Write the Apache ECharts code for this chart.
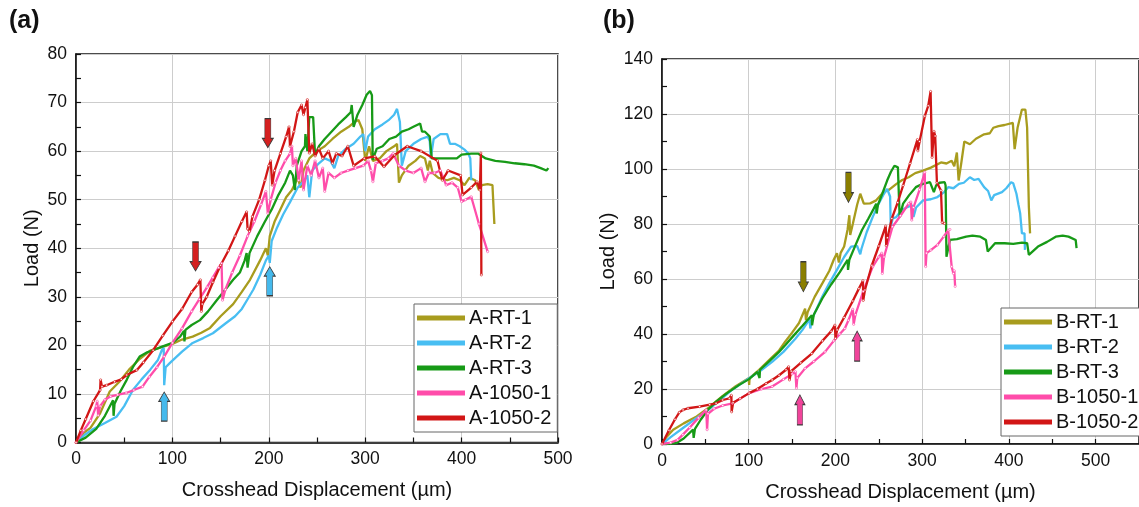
<!DOCTYPE html>
<html>
<head>
<meta charset="utf-8">
<script src="https://cdn.jsdelivr.net/npm/echarts@6/dist/echarts.min.js"></script>
<style>html,body{margin:0;padding:0;background:#fff;}#c{width:1139px;height:507px;}</style>
</head>
<body>
<div id="c"></div>
<script>
// ---------- Data: panel (a) ----------
const X_TICKS = [0, 100, 200, 300, 400, 500];
const A_RT_1 = [[0,0],[8,2],[15,3],[25,6],[35,10.5],[45,12.5],[55,15],[65,17],[77,18.9],[88,19.6],[100,20.3],[110,21.2],[121,21.8],[130,22.6],[139,23.6],[150,26],[163,28.5],[172,31],[180.5,33.5],[191,37.5],[197,40],[199,38.5],[201,42.5],[206,45.5],[212,48],[218,50.5],[224,52],[230,54.5],[233,52.5],[236,56],[242,58.5],[250,60],[258,61],[266,62.5],[275,64],[283,65],[289,66],[293,66.4],[297,64.5],[300,58],[304,61],[308,58],[315,58.5],[322,60],[330,61],[333,61.5],[335,53.5],[338,55],[345,57],[352,58],[357,59],[362,58.5],[365,56],[367,58],[370,55.5],[376,54.5],[385,54],[392,54.5],[398,54],[403,53],[408,54.5],[414,54],[418,52],[421,53],[427,53.2],[432,53],[434,45]];
const A_RT_2 = [[0,0],[10,1.7],[18,2.8],[30,4],[42,5.3],[50,7.5],[59,10.8],[68,13],[77,15],[85,17],[89,19],[91,19.5],[91.5,11.8],[93,15.5],[97.5,16.4],[110,18.7],[121,20.5],[132,21.5],[142,22.5],[155,24.5],[165,26],[172,27.5],[178,29.5],[184,31.5],[191,34.5],[197,37.5],[200,38.5],[201,37],[203,41.5],[208,44],[215,47],[222,49.5],[230,52.5],[237,54],[240,55],[242,50.5],[245,56],[252,57.5],[258,58.5],[264,58],[268,56.5],[272,59],[280,60.5],[288,61.5],[295,63],[298,63.5],[300,60],[303,63],[310,64.5],[318,65.5],[325,66.5],[330,67.5],[333,68.7],[336,66],[338,57],[342,60],[350,61.5],[358,62.5],[365,63],[367,62],[368,58.5],[371,62.5],[378,63.5],[385,63.5],[388,61.5],[393,61.5],[398,61],[403,60.3],[407,59.5],[409,58.5],[410,54]];
const A_RT_3 = [[0,0],[10,1],[21,2.8],[30,5.5],[38.4,8.7],[39,5.5],[40,8],[46,10.5],[52.6,12.9],[59,15.5],[66,17.7],[73,18.5],[80,19],[90,19.8],[100,20.5],[108,21.8],[112,23],[112.5,20.8],[113.5,23.2],[120,24.2],[128.6,25.2],[137,27],[146,29.3],[155,31.5],[163,33.5],[170,35],[175,37.5],[177,39],[178,36],[180,39],[188,42.5],[196,45.5],[203,48],[210,51],[217,53.5],[222,56],[225,55],[227,52],[229,57],[234,60],[237.5,61],[238,63.5],[240,60],[242,67],[246,67],[248,59.2],[252,61],[258,62.5],[265,64],[272,65.5],[280,67],[285,68],[286,69.5],[288,65],[292,67.5],[297,69.5],[301.5,71.6],[305,72.4],[307,71.5],[307.8,58.2],[312,60.5],[318,61],[325,62.5],[332,63],[338,64],[345,64.5],[350,65],[357,65.7],[359,64],[362,64],[367,63],[369,58.5],[375,58.5],[385,58.5],[395,58.5],[400,59.3],[410,59.5],[417,59.5],[425,58.5],[435,58],[445,57.8],[455,57.5],[465,57.3],[475,57],[482,56.5],[488,56],[490,56.5]];
const A_1050_1 = [[0,0],[8,2.5],[15,4.5],[21,7.5],[22,8.5],[23,5.6],[25,7.5],[30,8.8],[36,9.5],[43,9.8],[52,10.2],[60,10.8],[69,11.5],[76,13.5],[84,15.5],[91.5,17.7],[100,20.5],[110,23.5],[120,27],[128,29.5],[136,32],[142,34],[148,36],[151,36.9],[152,29.3],[155,31.5],[162,35],[170,38.5],[178,42.5],[185,45.5],[192,49],[197,51.7],[199,47.2],[202,50],[207,53.5],[212,56],[217,58],[222,59.5],[224,61],[225,57],[228,58.5],[231,54],[234,58],[236,52],[240,57],[244,55],[248,58],[252,54.5],[256,56.5],[258,51.7],[262,55.5],[268,54.5],[275,55.5],[282,56],[290,56.5],[298,57],[303,58],[306,56],[308,53.7],[311,57.5],[318,58],[324,58.5],[329,59.5],[335,57],[342,56],[350,55.5],[358,56.5],[362,53.7],[366,55.5],[372,55.5],[378,56],[384,53],[390,53.5],[396,52.5],[400,49.6],[404,50],[410,50.6],[418,45],[427,39.3]];
const A_1050_2 = [[0,0],[5,2.5],[10,4.8],[18,8.5],[25,10.8],[25.5,12.9],[27,11.5],[31.8,11.8],[40,12.5],[47,13],[52.6,13.9],[63,14.9],[70,16.5],[80,19],[90,22],[100,24.9],[110,27.5],[120,31],[126,32.5],[129,33.5],[130,27],[131,28.5],[135.6,30],[142,33],[150,36.5],[158,39.5],[165,42.5],[172,45.5],[177,47.5],[178,44],[180,43.5],[183,46.5],[190,50],[196,54],[200,57],[202,58],[203.5,53],[206,56],[212,59.5],[218,63],[221,65],[222,61],[226,64],[230,68],[234,69.5],[236,67.5],[238,69],[240,70.6],[242,59.6],[245,61.5],[248,59],[252,60.5],[256,58.5],[262,60],[266,57.5],[270,59.5],[276,59],[282,61],[288,57],[299,58.5],[310,58.9],[319.5,56.8],[330.6,59.2],[343.6,61],[358,60],[375,58],[380,54],[386,56],[399,55],[401,51],[410,52.5],[416,53.7],[419,52],[420,59.6],[420.5,34.5]];

// ---------- Data: panel (b) ----------
const B_RT_1 = [[0,0],[5,2.5],[12.9,5.2],[25,7.5],[40,10],[55,13.5],[70,17.5],[85,21],[100,23.9],[100.5,21.5],[101,24],[112,27],[125,31],[135,34],[142,37.2],[150,40.5],[158,44],[165,49.2],[166,45],[168,48],[176,53.5],[185,58.5],[193,63],[198,67],[201.7,69.4],[204,66],[206,69.5],[210,71.8],[214,78],[216,83.2],[217,76],[220,80],[225,87],[228.6,91],[232.7,87.4],[240,87.5],[247,88.6],[255.5,91.6],[262,92.5],[270,94.5],[277,96],[284.5,97],[292,98.5],[301,99.4],[310,100.5],[321.7,102.4],[328,102],[334,103],[337,101],[340,106],[342,95.8],[345,102],[348.6,110],[355,109],[362,111],[371.4,112.6],[378,113],[382,115],[388,115.6],[395,116],[404.5,116.8],[406.6,107.2],[410,115],[415,121.6],[419,121.6],[421,115],[423,86.2],[424.4,76.6]];
const B_RT_2 = [[0,0],[10,2.5],[25,6],[40,9.5],[51,11.8],[65,15.5],[80,19.5],[100.5,23.9],[115,27],[127,29.9],[140,33.5],[153.8,38.3],[162,41.5],[170,45.3],[171,42],[173,45.5],[185,53.7],[193,58.5],[201.7,63.3],[210,68],[218,71.8],[225,72],[228.6,69],[230,71],[236,77],[243,82.6],[250,87.5],[255,90.5],[259.6,92.8],[261.7,93.4],[263,90],[263.8,79],[266,82],[270,82.5],[276,85],[282,86],[288.6,86.8],[290,82.6],[293,86],[301,88.6],[310,89],[317.6,89.8],[325,91.5],[330,93.4],[336,93],[342.4,94.6],[348,95],[355,97],[360,96],[365,96.4],[371.4,93.4],[376,92],[379.7,88.6],[383,90.5],[392,91.6],[397,93],[402.5,95.2],[405,94.8],[408.7,91],[411,87],[413,83.8],[415,76.6],[418,76.6],[418.5,70.6]];
const B_RT_3 = [[0,0],[8,0],[16.7,0.4],[25,2],[35.8,5.2],[36.5,2.2],[38,5.5],[45,9],[53,12.5],[62.4,15.4],[75,18.5],[89,21.5],[100,23.5],[110,26.2],[112,26.9],[112.5,24],[113,27],[125,30.5],[135,33.5],[142,35.9],[152,39.5],[162,43],[172.7,46.8],[173,43.2],[175,47],[185,53],[195,58],[205,62.5],[214,67],[214.5,63.3],[216,67],[222,71.5],[230.6,77.8],[238,82],[244,85.5],[247,87.4],[247.5,83.8],[249,87],[254,91],[259.6,95.8],[264,99],[268,101.2],[272,100.6],[274,82.6],[278,87.4],[285,90.5],[292.7,93.4],[300,94.5],[309,95.2],[313.5,91.6],[316,94],[320,95],[326,95.2],[327,94],[328,68.1],[332,74.2],[340,74.5],[350.7,75.4],[358,75.8],[367,75.4],[373.5,74.2],[375.6,70],[384,73],[395,73],[405,72.8],[415,73.2],[421,73],[423,68.8],[433.5,71.8],[444,73.5],[454,75.4],[462,75.8],[468.7,75.4],[477,74.2],[478,71.2]];
const B_1050_1 = [[0,0],[10,0.5],[18,1.5],[24,3.4],[32,6],[42,9.5],[51,12.4],[52,5.2],[53,11],[60,12.8],[70,14],[81.4,14.8],[90,16.5],[100.5,18.5],[115,20],[127,20.9],[140,23.5],[150,25.5],[153.8,26.3],[155,20.3],[156,24],[165,27.5],[175,30],[188,33.5],[198,37.5],[205,40],[210.8,42],[215,45],[220,49],[221,43.5],[223,47],[232,55.5],[243,64.5],[250,68],[253.4,69.4],[254,62],[256,68],[265.8,79],[275,83],[284.5,87.4],[287,88],[288,81.4],[290,86],[297,92.5],[303,98.8],[304,64.5],[305,69.4],[310,70.5],[317.6,72.4],[325,75.5],[330,77.8],[332,78],[334,64.5],[336,62],[337,63],[338,57.3]];
const B_1050_2 = [[0,0],[8,5],[15,9],[20,11.5],[24.3,12.4],[30,13],[43.4,13.6],[55,14.3],[62.4,14.8],[70,16],[77.6,16.6],[80,17.7],[80.3,11.7],[82,15],[90,16.5],[100.5,18.5],[110,20],[120,22],[127,23.3],[135,25],[143,27],[146,28.1],[147,23.3],[149,26.5],[160,29.5],[172.7,32.9],[185,37.5],[195,41],[199.4,43.2],[200,38.4],[202,41.5],[210,46],[220,52],[227,56.5],[231.7,59.4],[232,52.2],[234,56],[242,65],[250,72],[258,79.3],[258.5,72.1],[260,75],[265,82],[271.7,87.8],[278,94],[286,102],[294.5,110.7],[295,106.6],[297,110],[303,119.2],[307,123],[309.7,128.2],[311.4,104.2],[313.6,113.7],[315,112],[317,95],[321.7,92.2],[323,80.6],[325.8,80.2]];

// ---------- Annotation arrows (data coordinates) ----------
const ARROWS_A = [
  {x:124, y:38.3, dir:'down', color:'#D42020'},
  {x:199, y:63.7, dir:'down', color:'#D42020'},
  {x:91.5, y:7.4, dir:'up', color:'#45B9EC'},
  {x:201, y:33.2, dir:'up', color:'#45B9EC'}
];
const ARROWS_B = [
  {x:163, y:60.8, dir:'down', color:'#8A7E00'},
  {x:215, y:93.3, dir:'down', color:'#8A7E00'},
  {x:159, y:12.4, dir:'up', color:'#F0449A'},
  {x:225, y:35.6, dir:'up', color:'#F0449A'}
];

const COLORS = {rt1:'#A89C1E', rt2:'#48BEF2', rt3:'#179A17', n1:'#FF4DAA', n2:'#D21616'};
const FONT = "'Liberation Sans', Arial, sans-serif";
const ARROW_PATH = 'path://M2.5,0L8.5,0L8.5,19L11,19L5.5,28L0,19L2.5,19Z';

function arrowPoints(list){
  return list.map(a => ({
    coord:[a.x, a.y],
    symbolRotate: a.dir === 'up' ? 180 : 0,
    itemStyle:{color:a.color, borderColor:'#3a3a3a', borderWidth:0.8}
  }));
}

function xAxis(idx, max){
  return {
    type:'value', gridIndex:idx, min:0, max:max, interval:100,
    name:'Crosshead Displacement (µm)', nameLocation:'middle', nameGap:38,
    nameTextStyle:{fontFamily:FONT, fontSize:20, color:'#111'},
    axisLine:{show:true, onZero:false, lineStyle:{color:'#111', width:1.5}},
    axisTick:{show:true, inside:true, length:5, lineStyle:{color:'#111', width:1.2}},
    minorTick:{show:true, splitNumber:2, length:5, lineStyle:{color:'#111', width:1.2}},
    splitLine:{show:true, lineStyle:{color:'#cdcdcd', width:1}},
    axisLabel:{fontFamily:FONT, fontSize:17.5, color:'#111', margin:8, showMaxLabel: max === 500}
  };
}
function yAxis(idx, max, step, gap){
  return {
    type:'value', gridIndex:idx, min:0, max:max, interval:step,
    name:'Load (N)', nameLocation:'middle', nameGap:gap, nameRotate:90,
    nameTextStyle:{fontFamily:FONT, fontSize:20, color:'#111'},
    axisLine:{show:true, onZero:false, lineStyle:{color:'#111', width:1.5}},
    axisTick:{show:true, inside:true, length:5, lineStyle:{color:'#111', width:1.2}},
    minorTick:{show:true, splitNumber:2, length:5, lineStyle:{color:'#111', width:1.2}},
    splitLine:{show:true, lineStyle:{color:'#cdcdcd', width:1}},
    axisLabel:{fontFamily:FONT, fontSize:17.5, color:'#111', margin:9}
  };
}
function line(name, data, color, idx, dotted, extra){
  const s = {
    name:name, type:'line', xAxisIndex:idx, yAxisIndex:idx, data:data,
    color:color, lineStyle:{color:color, width:2.3},
    showSymbol:dotted, symbol:dotted ? 'circle' : 'none', symbolSize:2.2,
    itemStyle:{color:'#fff', borderColor:color, borderWidth:0.6},
    animation:false, z:2
  };
  return Object.assign(s, extra || {});
}
function legend(names, colors, left, top){
  return {
    data:names.map((n, i) => ({name:n, itemStyle:{color:colors[i]}})),
    orient:'vertical', left:left, top:top,
    icon:'rect', itemWidth:46, itemHeight:3, itemGap:5,
    padding:[4,6,4,3],
    backgroundColor:'#fff', borderColor:'#666', borderWidth:1,
    textStyle:{fontFamily:FONT, fontSize:20, color:'#111', lineHeight:20},
    selectedMode:false
  };
}
const LEG_COLORS = [COLORS.rt1, COLORS.rt2, COLORS.rt3, COLORS.n1, COLORS.n2];

const chart = echarts.init(document.getElementById('c'), null, {renderer:'canvas'});
chart.setOption({
  backgroundColor:'#fff',
  animation:false,
  title:[
    {text:'(a)', left:9, top:9, padding:0, textStyle:{fontFamily:FONT, fontSize:25, fontWeight:'bold', color:'#111'}},
    {text:'(b)', left:603, top:9, padding:0, textStyle:{fontFamily:FONT, fontSize:25, fontWeight:'bold', color:'#111'}}
  ],
  grid:[
    {left:76, top:54, width:482, height:388.5, show:true, borderColor:'#111', borderWidth:1.5, backgroundColor:'transparent', containLabel:false},
    {left:662, top:59, width:482, height:387, show:true, borderColor:'#111', borderWidth:1.5, backgroundColor:'transparent', containLabel:false}
  ],
  xAxis:[xAxis(0, 500), xAxis(1, 550)],
  yAxis:[yAxis(0, 80, 10, 34), yAxis(1, 140, 20, 44)],
  legend:[
    legend(['A-RT-1','A-RT-2','A-RT-3','A-1050-1','A-1050-2'], LEG_COLORS, 414, 304),
    legend(['B-RT-1','B-RT-2','B-RT-3','B-1050-1','B-1050-2'], LEG_COLORS, 1001, 308)
  ],
  series:[
    line('A-RT-1', A_RT_1, COLORS.rt1, 0, false),
    line('A-RT-2', A_RT_2, COLORS.rt2, 0, false),
    line('A-RT-3', A_RT_3, COLORS.rt3, 0, false),
    line('A-1050-1', A_1050_1, COLORS.n1, 0, true),
    line('A-1050-2', A_1050_2, COLORS.n2, 0, true, {
      markPoint:{symbol:ARROW_PATH, symbolSize:[11,29], label:{show:false}, silent:true, data:arrowPoints(ARROWS_A), z:10}
    }),
    line('B-RT-1', B_RT_1, COLORS.rt1, 1, false),
    line('B-RT-2', B_RT_2, COLORS.rt2, 1, false),
    line('B-RT-3', B_RT_3, COLORS.rt3, 1, false),
    line('B-1050-1', B_1050_1, COLORS.n1, 1, true),
    line('B-1050-2', B_1050_2, COLORS.n2, 1, true, {
      markPoint:{symbol:ARROW_PATH, symbolSize:[10,30], label:{show:false}, silent:true, data:arrowPoints(ARROWS_B), z:10}
    })
  ]
});
</script>
</body>
</html>
